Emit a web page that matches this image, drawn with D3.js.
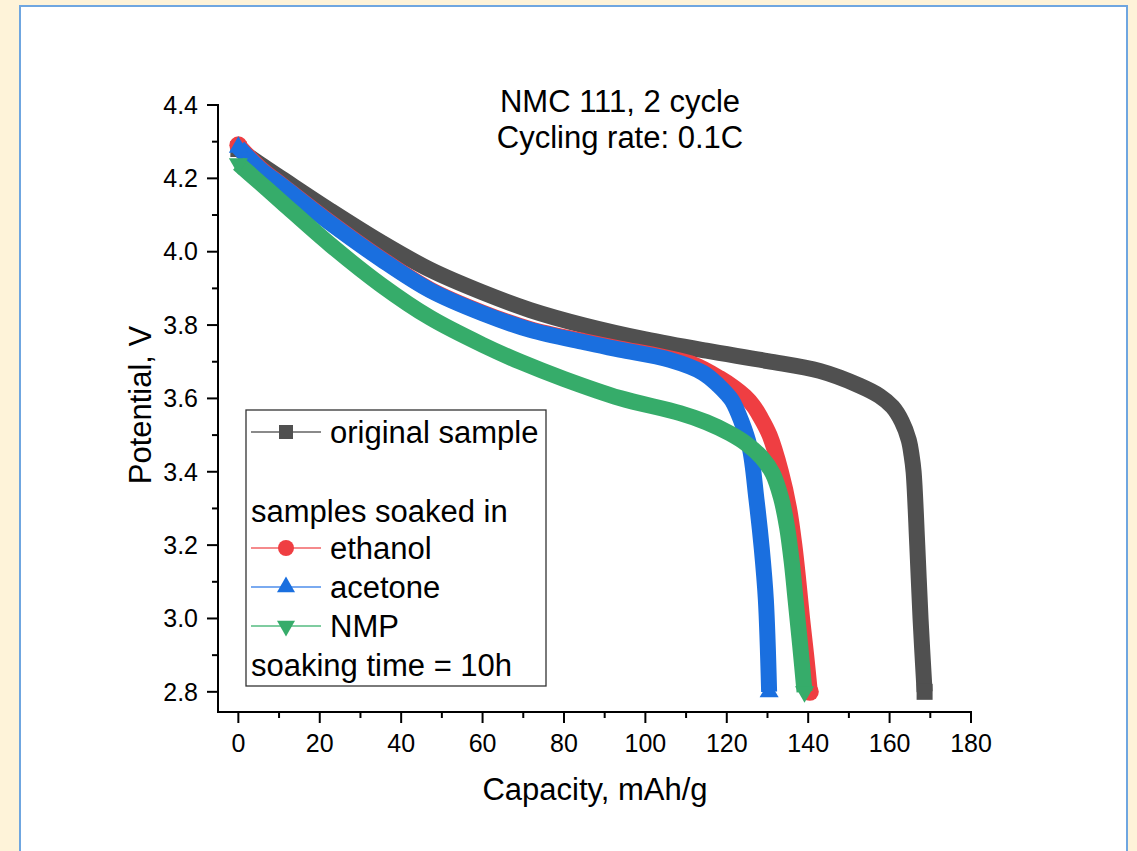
<!DOCTYPE html>
<html>
<head>
<meta charset="utf-8">
<script src="https://cdn.jsdelivr.net/npm/d3@7"></script>
<style>
  html, body { margin: 0; padding: 0; background: #fef3d9; }
  svg { display: block; font-family: "Liberation Sans", Arial, sans-serif; }
</style>
</head>
<body>
<script>
// capacity (mAh/g), potential (V)
var original = [
  [0, 4.28], [5.4, 4.238], [10.7, 4.199], [22.6, 4.112], [35, 4.026], [47.1, 3.951],
  [60, 3.889], [71.7, 3.841], [85, 3.799], [100, 3.761], [115, 3.73], [130, 3.702],
  [142.8, 3.675], [152.6, 3.635], [157.5, 3.607], [160.7, 3.577], [163, 3.537],
  [164.7, 3.487], [165.4, 3.445], [165.9, 3.4], [166.8, 3.2], [167.6, 3.0], [168.6, 2.8]
];
var ethanol = [
  [0, 4.29], [5.4, 4.228], [10.7, 4.182], [22.6, 4.08], [35, 3.982], [47.1, 3.897],
  [60, 3.834], [71.7, 3.789], [85, 3.756], [93.7, 3.736], [104, 3.714], [112, 3.692],
  [118.3, 3.655], [122, 3.628], [124.5, 3.605], [126.5, 3.58], [128.2, 3.55], [130.5, 3.5],
  [133.3, 3.4], [135.3, 3.3], [136.6, 3.2], [137.6, 3.1], [138.5, 3.0], [139.5, 2.9], [140.4, 2.8]
];
var acetone = [
  [0, 4.285], [5.4, 4.225], [10.7, 4.18], [22.6, 4.078], [35, 3.98], [47.1, 3.895],
  [60, 3.832], [71.7, 3.787], [85, 3.753], [93.7, 3.733], [106, 3.705], [114.1, 3.67],
  [118, 3.635], [120, 3.612], [121.3, 3.594], [123.5, 3.54], [125.6, 3.468],
  [127.3, 3.324], [128.6, 3.19], [129.6, 3.051], [130.4, 2.8]
];
var nmp = [
  [0, 4.24], [5.4, 4.187], [10.7, 4.135], [22.6, 4.019], [35, 3.91], [47.1, 3.82],
  [60, 3.746], [69.2, 3.70], [80, 3.653], [93.7, 3.601], [108.5, 3.56], [115, 3.535],
  [120.7, 3.505], [125, 3.475], [128.5, 3.44], [131.3, 3.395], [133.3, 3.33],
  [134.8, 3.25], [136, 3.15], [136.9, 3.051], [138, 2.93], [139.1, 2.8]
];

var xTicks = [0, 20, 40, 60, 80, 100, 120, 140, 160, 180];
var yTicks = [2.8, 3.0, 3.2, 3.4, 3.6, 3.8, 4.0, 4.2, 4.4];
var titleLines = ["NMC 111, 2 cycle", "Cycling rate: 0.1C"];

var series = [
  {name: "original sample", data: original, color: "#505050", legendLine: "#8a8a8a", symbol: "square"},
  {name: "ethanol", data: ethanol, color: "#ef3e42", legendLine: "#f58a8c", symbol: "circle"},
  {name: "acetone", data: acetone, color: "#1a6fdf", legendLine: "#7aaaf0", symbol: "up"},
  {name: "NMP", data: nmp, color: "#36ac6a", legendLine: "#7fcca0", symbol: "down"}
];

var W = 1137, H = 851;
var svg = d3.select("body").append("svg").attr("width", W).attr("height", H);

// page panel
svg.append("rect").attr("x", 0).attr("y", 0).attr("width", W).attr("height", H).attr("fill", "#fef3d9");
svg.append("rect").attr("x", 20).attr("y", 6).attr("width", 1107).attr("height", 860)
  .attr("fill", "#ffffff").attr("stroke", "#6fa6e0").attr("stroke-width", 2);

var x = d3.scaleLinear().domain([-5, 180]).range([218, 971]);
var y = d3.scaleLinear().domain([2.745, 4.4]).range([712, 105]);

function marker(type, size) {
  if (type === "square") return d3.symbol(d3.symbolSquare, size * size)();
  if (type === "circle") return d3.symbol(d3.symbolCircle, Math.PI * size * size / 4)();
  return d3.symbol(d3.symbolTriangle, Math.sqrt(3) / 4 * size * size)();
}

// curves
var line = d3.line().x(function(d) { return x(d[0]); }).y(function(d) { return y(d[1]); })
  .curve(d3.curveCatmullRom.alpha(0.5));

series.forEach(function(s) {
  var g = svg.append("g");
  g.append("path").attr("d", line(s.data)).attr("fill", "none")
    .attr("stroke", s.color).attr("stroke-width", 16)
    .attr("stroke-linejoin", "round").attr("stroke-linecap", "butt");
  var ends = [s.data[0], s.data[s.data.length - 1]];
  g.selectAll("path.m").data(ends).enter().append("path").attr("class", "m")
    .attr("d", marker(s.symbol, s.symbol === "square" ? 16 : s.symbol === "circle" ? 18 : 19))
    .attr("transform", function(d) {
      return "translate(" + x(d[0]) + "," + y(d[1]) + ")" + (s.symbol === "down" ? " rotate(180)" : "");
    })
    .attr("fill", s.color);
});

// axes
var xAxis = svg.append("g").attr("transform", "translate(0,712)");
xAxis.append("line").attr("x1", 217).attr("x2", 972).attr("stroke", "#000").attr("stroke-width", 2);
xAxis.selectAll("line.minor").data(d3.range(10, 180, 20)).enter().append("line")
  .attr("x1", function(d) { return x(d); }).attr("x2", function(d) { return x(d); })
  .attr("y1", 0).attr("y2", 6).attr("stroke", "#000").attr("stroke-width", 2);
xAxis.selectAll("line.major").data(xTicks).enter().append("line")
  .attr("x1", function(d) { return x(d); }).attr("x2", function(d) { return x(d); })
  .attr("y1", 0).attr("y2", 11).attr("stroke", "#000").attr("stroke-width", 2);
xAxis.selectAll("text").data(xTicks).enter().append("text")
  .attr("x", function(d) { return x(d); }).attr("y", 40)
  .attr("text-anchor", "middle").attr("font-size", 25).text(function(d) { return d; });

var yAxis = svg.append("g").attr("transform", "translate(218,0)");
yAxis.append("line").attr("y1", 104).attr("y2", 713).attr("stroke", "#000").attr("stroke-width", 2);
yAxis.selectAll("line.minor").data(d3.range(2.9, 4.4, 0.2)).enter().append("line")
  .attr("y1", function(d) { return y(d); }).attr("y2", function(d) { return y(d); })
  .attr("x1", 0).attr("x2", -6).attr("stroke", "#000").attr("stroke-width", 2);
yAxis.selectAll("line.major").data(yTicks).enter().append("line")
  .attr("y1", function(d) { return y(d); }).attr("y2", function(d) { return y(d); })
  .attr("x1", 0).attr("x2", -11).attr("stroke", "#000").attr("stroke-width", 2);
yAxis.selectAll("text").data(yTicks).enter().append("text")
  .attr("x", -20).attr("y", function(d) { return y(d); }).attr("dy", "0.35em")
  .attr("text-anchor", "end").attr("font-size", 25).text(function(d) { return d.toFixed(1); });

// titles
svg.append("text").attr("x", 595).attr("y", 800).attr("text-anchor", "middle")
  .attr("font-size", 31).text("Capacity, mAh/g");
svg.append("text").attr("transform", "translate(151,405) rotate(-90)").attr("text-anchor", "middle")
  .attr("font-size", 31).text("Potential, V");
svg.selectAll("text.title").data(titleLines).enter().append("text").attr("class", "title")
  .attr("x", 620).attr("y", function(d, i) { return 112 + i * 36; })
  .attr("text-anchor", "middle").attr("font-size", 31).text(function(d) { return d; });

// legend
var legend = svg.append("g");
legend.append("rect").attr("x", 246).attr("y", 410).attr("width", 300).attr("height", 276)
  .attr("fill", "#fff").attr("stroke", "#333").attr("stroke-width", 1.3);
var rows = [432, 548, 587, 626];
series.forEach(function(s, i) {
  var ry = rows[i];
  legend.append("line").attr("x1", 251).attr("x2", 321).attr("y1", ry).attr("y2", ry)
    .attr("stroke", s.legendLine).attr("stroke-width", 2);
  legend.append("path")
    .attr("d", marker(s.symbol, s.symbol === "square" ? 14 : s.symbol === "circle" ? 16 : 18))
    .attr("transform", "translate(286," + ry + ")" + (s.symbol === "down" ? " rotate(180)" : ""))
    .attr("fill", s.color);
  legend.append("text").attr("x", 330).attr("y", ry).attr("dy", "0.35em")
    .attr("font-size", 31).text(s.name);
});
legend.append("text").attr("x", 251).attr("y", 511).attr("dy", "0.35em").attr("font-size", 31)
  .text("samples soaked in");
legend.append("text").attr("x", 251).attr("y", 665).attr("dy", "0.35em").attr("font-size", 31)
  .text("soaking time = 10h");
</script>
</body>
</html>
